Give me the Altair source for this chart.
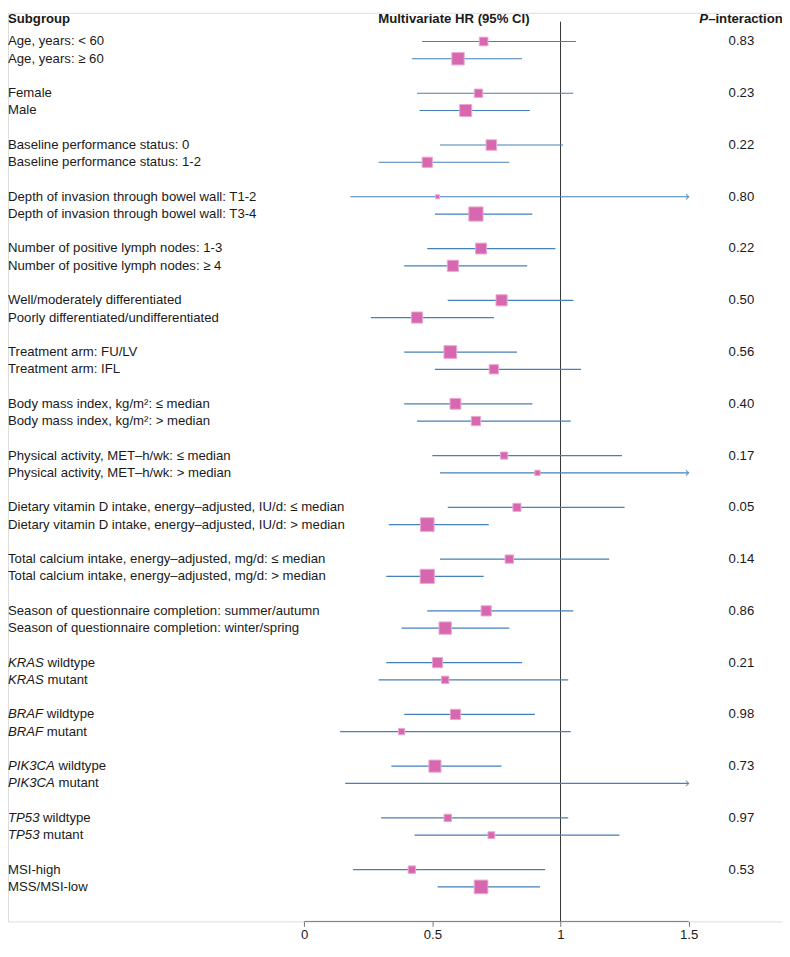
import altair as alt
import pandas as pd

# ---------------- data ----------------
labels = [
    "Age, years: < 60", "Age, years: \u2265 60",
    "Female", "Male",
    "Baseline performance status: 0", "Baseline performance status: 1-2",
    "Depth of invasion through bowel wall: T1-2", "Depth of invasion through bowel wall: T3-4",
    "Number of positive lymph nodes: 1-3", "Number of positive lymph nodes: \u2265 4",
    "Well/moderately differentiated", "Poorly differentiated/undifferentiated",
    "Treatment arm: FU/LV", "Treatment arm: IFL",
    "Body mass index, kg/m\u00b2: \u2264 median", "Body mass index, kg/m\u00b2: > median",
    "Physical activity, MET\u2013h/wk: \u2264 median", "Physical activity, MET\u2013h/wk: > median",
    "Dietary vitamin D intake, energy\u2013adjusted, IU/d: \u2264 median",
    "Dietary vitamin D intake, energy\u2013adjusted, IU/d: > median",
    "Total calcium intake, energy\u2013adjusted, mg/d: \u2264 median",
    "Total calcium intake, energy\u2013adjusted, mg/d: > median",
    "Season of questionnaire completion: summer/autumn",
    "Season of questionnaire completion: winter/spring",
    "KRAS wildtype", "KRAS mutant",
    "BRAF wildtype", "BRAF mutant",
    "PIK3CA wildtype", "PIK3CA mutant",
    "TP53 wildtype", "TP53 mutant",
    "MSI-high", "MSS/MSI-low",
]
hr = [0.70, 0.60, 0.68, 0.63, 0.73, 0.48, 0.52, 0.67, 0.69, 0.58, 0.77, 0.44,
      0.57, 0.74, 0.59, 0.67, 0.78, 0.91, 0.83, 0.48, 0.80, 0.48, 0.71, 0.55,
      0.52, 0.55, 0.59, 0.38, 0.51, None, 0.56, 0.73, 0.42, 0.69]
lo = [0.46, 0.42, 0.44, 0.45, 0.53, 0.29, 0.18, 0.51, 0.48, 0.39, 0.56, 0.26,
      0.39, 0.51, 0.39, 0.44, 0.50, 0.53, 0.56, 0.33, 0.53, 0.32, 0.48, 0.38,
      0.32, 0.29, 0.39, 0.14, 0.34, 0.16, 0.30, 0.43, 0.19, 0.52]
hi = [1.06, 0.85, 1.05, 0.88, 1.01, 0.80, None, 0.89, 0.98, 0.87, 1.05, 0.74,
      0.83, 1.08, 0.89, 1.04, 1.24, None, 1.25, 0.72, 1.19, 0.70, 1.05, 0.80,
      0.85, 1.03, 0.90, 1.04, 0.77, None, 1.03, 1.23, 0.94, 0.92]
weights = [9.3, 13.3, 9.0, 13.0, 11.3, 11.0, 4.3, 15.3, 11.7, 12.0, 12.0, 12.0,
           13.7, 10.0, 11.7, 10.0, 7.7, 5.7, 8.7, 14.7, 9.0, 15.3, 11.0, 13.3,
           11.0, 8.0, 11.0, 6.7, 13.0, 0.0, 8.0, 7.3, 8.0, 14.7]
p_values = ["0.83", "0.23", "0.22", "0.80", "0.22", "0.50", "0.56", "0.40", "0.17",
            "0.05", "0.14", "0.86", "0.21", "0.98", "0.73", "0.97", "0.53"]
genes = ["KRAS", "BRAF", "PIK3CA", "TP53"]
x_ticks = [0, 0.5, 1, 1.5]

# ---------------- styling / layout constants ----------------
FONT = "Liberation Sans"
FS = 13.3
TXT = "#1a1a1a"
LINE = "#4580b8"
FILL = "#d768b0"
EDGE = "#eca6d2"
AXIS = "#777777"
W, H = 782, 918
ROW0 = 29
K = (H - ROW0) / 51.0
X0, X1 = 299.3, 687.7
ARIAL = {"K": 667, "R": 722, "A": 667, "S": 667, "B": 667, "F": 611, "P": 667,
         "I": 278, "3": 556, "C": 722, "T": 611, "5": 556}


def text_w(s):
    return sum(ARIAL[c] for c in s) / 1000 * FS


def split(l):
    for g in genes:
        if l.startswith(g + " "):
            return g, l[len(g) + 1:]
    return "", l


n = len(labels)
rows = [3 * (i // 2) + i % 2 for i in range(n)]
parts = [split(l) for l in labels]
df = pd.DataFrame({
    "label": labels, "hr": hr, "lo": lo, "hi": hi, "w": weights, "row": rows,
    "gene": [p[0] for p in parts], "rest": [p[1] for p in parts],
})
df["arrow"] = df["hi"].isna()
df["hi_c"] = df["hi"].fillna(1.5)

pdf = pd.DataFrame({"p": p_values, "row": [3 * g for g in range(len(p_values))]})

r_top = -ROW0 / K
r_bot = r_top + H / K
yscale = alt.Scale(domain=[r_top, r_bot], range=[0, H], nice=False, zero=False)
xscale = alt.Scale(domain=[0, 1.5], range=[X0, X1], nice=False, zero=False)
Y = alt.Y("row:Q", scale=yscale, axis=None)

base = alt.Chart(df)

ci = base.mark_rule(color=LINE, strokeWidth=1.2).encode(
    x=alt.X("lo:Q", scale=xscale,
            axis=alt.Axis(values=x_ticks, format="~g", title=None, grid=False,
                          domain=False, tickColor=AXIS, tickSize=5, tickWidth=1,
                          labelColor=TXT, labelFont=FONT, labelFontSize=FS,
                          labelPadding=1, labelFlush=False)),
    x2="hi_c:Q",
    y=Y,
)

axis_line = alt.Chart(pd.DataFrame({"a": [x_ticks[0]], "b": [x_ticks[-1]]})).mark_rule(
    color=AXIS, strokeWidth=1
).encode(x=alt.X("a:Q", scale=xscale), x2="b:Q", y=alt.value(H))

arrows = base.transform_filter("datum.arrow").mark_point(
    shape="M-1,-1L0,0L-1,1", filled=False, size=30, color=LINE, strokeWidth=1.2
).encode(x=alt.X("hi_c:Q", scale=xscale), y=Y)

squares = base.transform_filter("isValid(datum.hr) && datum.w > 0").mark_square(
    color=FILL, opacity=1, stroke=EDGE, strokeWidth=1
).encode(
    x=alt.X("hr:Q", scale=xscale),
    y=Y,
    size=alt.Size("w:Q", scale=alt.Scale(type="pow", exponent=2, domain=[0, 16], range=[0, 225]),
                  legend=None),
)

vline = alt.Chart(pd.DataFrame({"v": [1.0]})).mark_rule(color="#333", strokeWidth=1).encode(
    x=alt.X("v:Q", scale=xscale), y=alt.value(9), y2=alt.value(H)
)

plain = base.transform_filter("datum.gene == ''").mark_text(
    align="left", baseline="middle", font=FONT, fontSize=FS, color=TXT
).encode(x=alt.value(0), y=Y, text="label:N")

italic = base.transform_filter("datum.gene != ''").mark_text(
    align="left", baseline="middle", font=FONT, fontSize=FS, color=TXT, fontStyle="italic"
).encode(x=alt.value(0), y=Y, text="gene:N")

gene_rest = [
    base.transform_filter(alt.datum.gene == g).mark_text(
        align="left", baseline="middle", font=FONT, fontSize=FS, color=TXT,
        dx=text_w(g) + 0.278 * FS
    ).encode(x=alt.value(0), y=Y, text="rest:N")
    for g in genes
]

ptext = alt.Chart(pdf).mark_text(
    align="center", baseline="middle", font=FONT, fontSize=FS, color=TXT
).encode(x=alt.value(741), y=alt.Y("row:Q", scale=yscale, axis=None), text="p:N")


def header(t, x, align="left", style="normal"):
    return alt.Chart(pd.DataFrame({"t": [t]})).mark_text(
        align=align, baseline="middle", font=FONT, fontSize=FS, fontWeight="bold",
        fontStyle=style, color=TXT
    ).encode(x=alt.value(x), y=alt.value(6.5), text="t:N")


hdrs = [
    header("Subgroup", 0),
    header("Multivariate HR (95% CI)", 450.5, align="center"),
    header("P", 698.5, style="italic"),
    header("\u2013interaction", 698.5 + 0.667 * FS),
]

chart = alt.layer(
    vline, axis_line, ci, arrows, squares, plain, italic, *gene_rest, ptext, *hdrs
).properties(
    width=W, height=H,
    autosize=alt.AutoSizeParams(type="none"),
    padding={"left": 0, "top": 0, "right": 0, "bottom": 20},
).configure_view(stroke=None).configure(background="white")

chart.save("out.html", embed_options={"renderer": "svg", "actions": False})
